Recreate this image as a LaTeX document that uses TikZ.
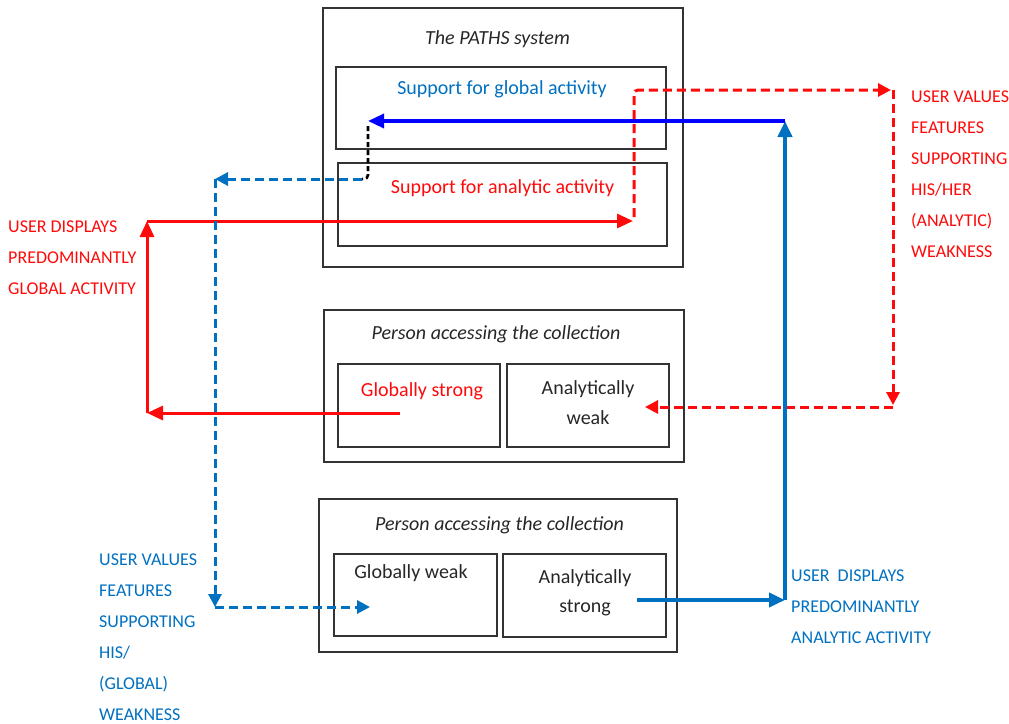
\documentclass[tikz,border=0pt]{standalone}
\usepackage{fontspec}
\setmainfont{Carlito}
\usetikzlibrary{arrows.meta}
\definecolor{pathsred}{RGB}{255,10,10}
\definecolor{pathsblue}{RGB}{0,112,192}
\definecolor{linkblue}{RGB}{0,0,255}
\tikzset{
	box/.style={draw=black!80, line width=1.4pt, inner sep=0pt},
	boxtext/.style={font=\fontsize{20}{30}\selectfont, anchor=base, inner sep=0pt, text=black!85},
	caps/.style={font=\fontsize{18}{31}\selectfont, align=left, anchor=base west, inner sep=0pt},
	bigtip/.style={-{Triangle[length=16pt,width=14pt]}},
	smalltip/.style={-{Triangle[length=13pt,width=13pt]}},
	solidred/.style={pathsred, line width=3pt, bigtip},
	dashred/.style={pathsred, line width=3pt, dash pattern=on 9pt off 5pt, smalltip},
	solidblue/.style={pathsblue, line width=4pt, bigtip},
	dashblue/.style={pathsblue, line width=3pt, dash pattern=on 9pt off 5pt, smalltip},
	blackdash/.style={black, line width=2.6pt, dash pattern=on 5pt off 3pt}
}

\begin{document}
\begin{tikzpicture}[x=1pt, y=-1pt]
	%%%%% START %%%%%
	\useasboundingbox (0, 0) rectangle (1009, 723);
	
	% the PATHS system
	\node[box, minimum width=360, minimum height=259] (paths) at (503, 137.5) {};
	\node[box, minimum width=330, minimum height=82] (sglobal) at (501, 108) {};
	\node[box, minimum width=329, minimum height=83] (sanalytic) at (502.5, 204.5) {};
	\node[boxtext] (tpaths) at (497.5, 44) {\itshape The PATHS system};
	\node[boxtext, text=pathsblue] (tsglobal) at (502, 94) {Support for global activity};
	\node[boxtext, text=pathsred] (tsanalytic) at (502.5, 193) {Support for analytic activity};
	
	% person, globally strong
	\node[box, minimum width=360, minimum height=152] (personone) at (504, 386) {};
	\node[box, minimum width=162, minimum height=83] (gstrong) at (419, 405.5) {};
	\node[box, minimum width=162, minimum height=83] (aweak) at (588, 405.5) {};
	\node[boxtext] (tpersonone) at (496, 339) {\itshape Person accessing the collection};
	\node[boxtext, text=pathsred] (tgstrong) at (422, 396) {Globally strong};
	\node[boxtext, align=center] (taweak) at (588, 424) {Analytically\\weak};
	
	% person, analytically strong
	\node[box, minimum width=358, minimum height=153] (persontwo) at (498, 575.5) {};
	\node[box, minimum width=163, minimum height=82] (gweak) at (415.5, 595) {};
	\node[box, minimum width=163, minimum height=83] (astrong) at (584.5, 595.5) {};
	\node[boxtext] (tpersontwo) at (499.5, 530) {\itshape Person accessing the collection};
	\node[boxtext] (tgweak) at (411, 578) {Globally weak};
	\node[boxtext, align=center, font=\fontsize{20}{29}\selectfont] (tastrong) at (585, 612) {Analytically\\strong};
	
	% labels (base = last line)
	\node[caps, text=pathsred] (lgactivity) at (8, 294) {USER DISPLAYS\\PREDOMINANTLY\\GLOBAL ACTIVITY};
	\node[caps, text=pathsred] (laweakness) at (911, 257) {USER VALUES\\FEATURES\\SUPPORTING\\HIS/HER\\(ANALYTIC)\\WEAKNESS};
	\node[caps, text=pathsblue] (lgweakness) at (99, 720) {USER VALUES\\FEATURES\\SUPPORTING\\HIS/\\(GLOBAL)\\WEAKNESS};
	\node[caps, text=pathsblue] (laactivity) at (791, 643) {USER\ \ DISPLAYS\\PREDOMINANTLY\\ANALYTIC ACTIVITY};
	
	% bends
	\coordinate (rs0) at (400, 413);
	\coordinate (rs1) at (147, 413);
	\coordinate (rs2) at (147, 221);
	\coordinate (rs3) at (633, 221);
	\coordinate (rd0) at (634, 217);
	\coordinate (rd1) at (891, 90);
	\coordinate (rd2) at (893, 405);
	\coordinate (rd3) at (893, 407);
	\coordinate (rd4) at (645, 407);
	\coordinate (bs0) at (637, 600);
	\coordinate (bs1) at (785, 600);
	\coordinate (bs2) at (785, 121);
	\coordinate (bs3) at (368, 121);
	\coordinate (bk0) at (368, 126);
	\coordinate (bk1) at (362, 179);
	\coordinate (bd1) at (215, 179);
	\coordinate (bd2) at (215, 607);
	\coordinate (bd3) at (370, 607);
	
	% global activity path
	\draw[solidred] (rs0) -- (rs1);
	\draw[solidred] (rs1) -- (rs2);
	\draw[solidred] (rs2) -- (rs3);
	\draw[dashred, rounded corners=4pt] (rd0) |- (rd1);
	\draw[dashred] (rd1 -| rd2) -- (rd2);
	\draw[dashred] (rd3) -- (rd4);
	
	% analytic activity path
	\draw[solidblue] (bs0) -- (bs1);
	\draw[solidblue] (bs1) -- (bs2);
	\draw[linkblue, line width=3.4pt, bigtip] (bs2) -- (bs3);
	\draw[blackdash, rounded corners=4pt] (bk0) |- (bk1);
	\draw[dashblue] (bk1) -- (bd1);
	\draw[dashblue] (bd1) -- (bd2);
	\draw[dashblue] (bd2) -- (bd3);
	%%%%% END %%%%%
\end{tikzpicture}
\end{document}
